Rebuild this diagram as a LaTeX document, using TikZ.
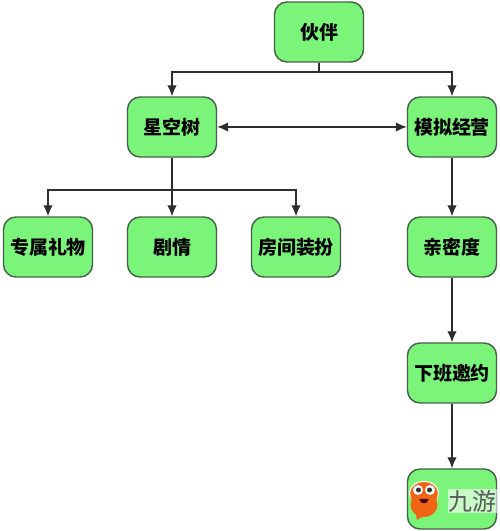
\documentclass[tikz,border=0pt]{standalone}
\usepackage{fontspec}
\setmainfont{Noto Sans CJK SC}
\usetikzlibrary{arrows.meta}
\definecolor{boxgreen}{RGB}{122,245,122}
\definecolor{boxline}{RGB}{66,98,70}
\definecolor{linkgray}{RGB}{45,45,45}
\definecolor{logoorange}{RGB}{240,100,20}
\begin{document}
\begin{tikzpicture}[
  box/.style={rectangle, draw=boxline, fill=boxgreen, line width=0.8pt, rounded corners=0.25cm,
    minimum width=1.78cm, minimum height=1.2cm, inner sep=0pt, font=\fontsize{10.8}{13}\selectfont\bfseries},
  link/.style={draw=linkgray, line width=0.75pt, -{Latex[length=0.22cm, width=0.19cm]}},
  plainlink/.style={draw=linkgray, line width=0.75pt}
]
  \useasboundingbox (0,0) rectangle (10,10.62);

  \node[box] (huoban) at (6.38, 9.98) {伙伴};

  \node[box] (xingkong) at (3.44, 8.08) {星空树};
  \node[box] (moni) at (9.04, 8.08) {模拟经营};

  \node[box] (zhuanshu) at (0.96, 5.68) {专属礼物};
  \node[box] (juqing) at (3.44, 5.68) {剧情};
  \node[box] (fangjian) at (5.92, 5.68) {房间装扮};

  \node[box] (qinmi) at (9.04, 5.68) {亲密度};
  \node[box] (xiaban) at (9.04, 3.16) {下班邀约};
  \node[box] (last) at (9.04, 0.64) {};

  \coordinate (split1) at (6.38, 9.18);
  \coordinate (split2) at (3.44, 6.82);

  \draw[plainlink] (huoban)--(split1);
  \draw[link] (split1) -| (xingkong);
  \draw[link] (split1) -| (moni);

  \draw[link, {Latex[length=0.22cm, width=0.19cm]}-{Latex[length=0.22cm, width=0.19cm]}] (xingkong)--(moni);

  \draw[link] (xingkong)--(juqing);
  \draw[link] (split2) -| (zhuanshu);
  \draw[link] (split2) -| (fangjian);

  \draw[link] (moni)--(qinmi);
  \draw[link] (qinmi)--(xiaban);
  \draw[link] (xiaban)--(last);

  % watermark in the last box
  \node[fill=white, fill opacity=0.6, text opacity=1, text=black!65, inner sep=0.5pt, font=\fontsize{13.6}{15}\selectfont] (wm) at (9.45, 0.6) {九游};
  \fill[logoorange, draw=white, line width=0.6pt] (8.48, 0.76) ellipse (0.29 and 0.23);
  \fill[logoorange] (8.48, 0.52) ellipse (0.27 and 0.24);
  \fill[logoorange] (8.3, 0.42) -- (8.66, 0.42) -- (8.34, 0.22) -- cycle;
  \fill[logoorange] (8.48, 0.7) ellipse (0.27 and 0.2);
  \fill[white] (8.36, 0.82) circle (0.1) (8.6, 0.82) circle (0.1);
  \fill[black!80] (8.37, 0.82) circle (0.05) (8.59, 0.82) circle (0.05);
  \fill[black!70!red] (8.39, 0.64) -- (8.57, 0.64) arc (0:-180:0.09) -- cycle;
\end{tikzpicture}
\end{document}
